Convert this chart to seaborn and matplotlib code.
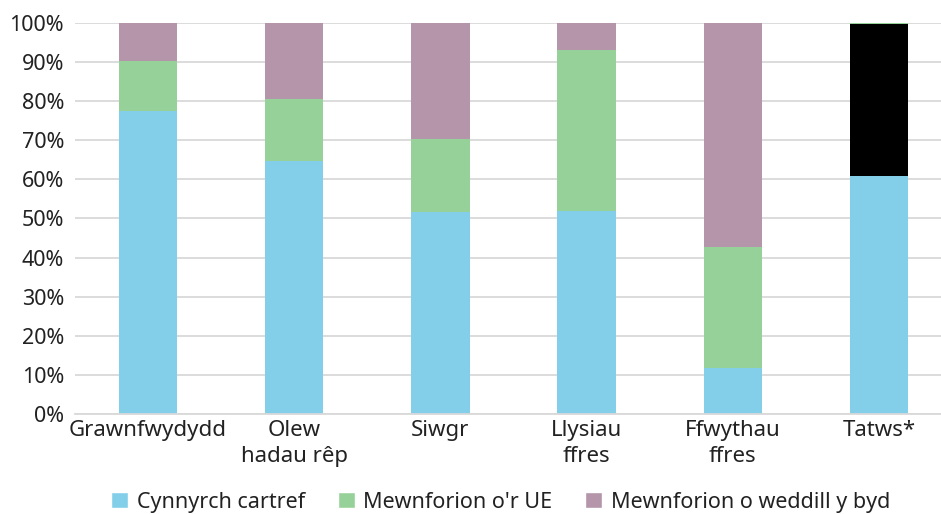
import numpy as np
import pandas as pd
import matplotlib
matplotlib.use("Agg")
import matplotlib.pyplot as plt
import seaborn as sns
from matplotlib.patches import Patch

# Data (percent of supply)
categories = ["Grawnfwydydd", "Olew\nhadau rêp", "Siwgr", "Llysiau\nffres", "Ffwythau\nffres", "Tatws*"]
cartref = [77.5, 64.7, 51.7, 51.9, 11.8, 60.9]
arall = [0.0, 0.0, 0.0, 0.0, 0.0, 38.8]
ue = [12.8, 15.9, 18.6, 41.2, 30.9, 0.3]
byd = [9.7, 19.4, 29.7, 6.9, 57.3, 0.0]

series_names = ["Cynnyrch cartref", "", "Mewnforion o'r UE", "Mewnforion o weddill y byd"]
colors = ["#83CEE9", "#000000", "#97D19A", "#B495A9"]

sns.set_theme(style="white")
plt.rcParams["font.family"] = ["Noto Sans", "DejaVu Sans"]

df = pd.DataFrame({"cat": categories, "s0": cartref, "s1": arall, "s2": ue, "s3": byd})
cum = df[["s0", "s1", "s2", "s3"]].cumsum(axis=1)

fig = plt.figure(figsize=(9.41, 5.14), dpi=100)
ax = fig.add_axes([0.0797, 0.1946, 0.932, 0.7608])

# draw cumulative layers from top down so each sits on the one below
for i in [3, 2, 1, 0]:
    sns.barplot(x=df["cat"], y=cum[f"s{i}"], color=colors[i], width=0.4,
                saturation=1, linewidth=0, ax=ax, zorder=2)

ax.set_ylim(0, 100)
ax.set_xlim(-0.5, len(categories) - 0.5)
ax.set_yticks(np.arange(0, 101, 10))
ax.set_yticklabels([f"{v}%" for v in range(0, 101, 10)])
ax.yaxis.grid(True, color="#d9d9d9", linewidth=1.3, zorder=0)
ax.set_axisbelow(True)
ax.set_xlabel("")
ax.set_ylabel("")
for s in ["top", "right", "left"]:
    ax.spines[s].set_visible(False)
ax.spines["bottom"].set_color("#d9d9d9")
ax.spines["bottom"].set_linewidth(1.3)
ax.tick_params(axis="both", length=0, labelsize=15.5, colors="#222222")
ax.tick_params(axis="y", pad=8)
ax.tick_params(axis="x", pad=4)
for lbl in ax.get_xticklabels():
    lbl.set_fontsize(16)
    lbl.set_linespacing(1.35)

handles = [Patch(facecolor=colors[i], label=series_names[i]) for i in [0, 2, 3]]
fig.legend(handles=handles, loc="lower center", bbox_to_anchor=(0.532, -0.035), ncol=3,
           frameon=False, fontsize=15.5, handlelength=0.8, handleheight=0.8,
           handletextpad=0.4, columnspacing=1.5, labelcolor="#222222")

fig.savefig("out.png", dpi=100)
